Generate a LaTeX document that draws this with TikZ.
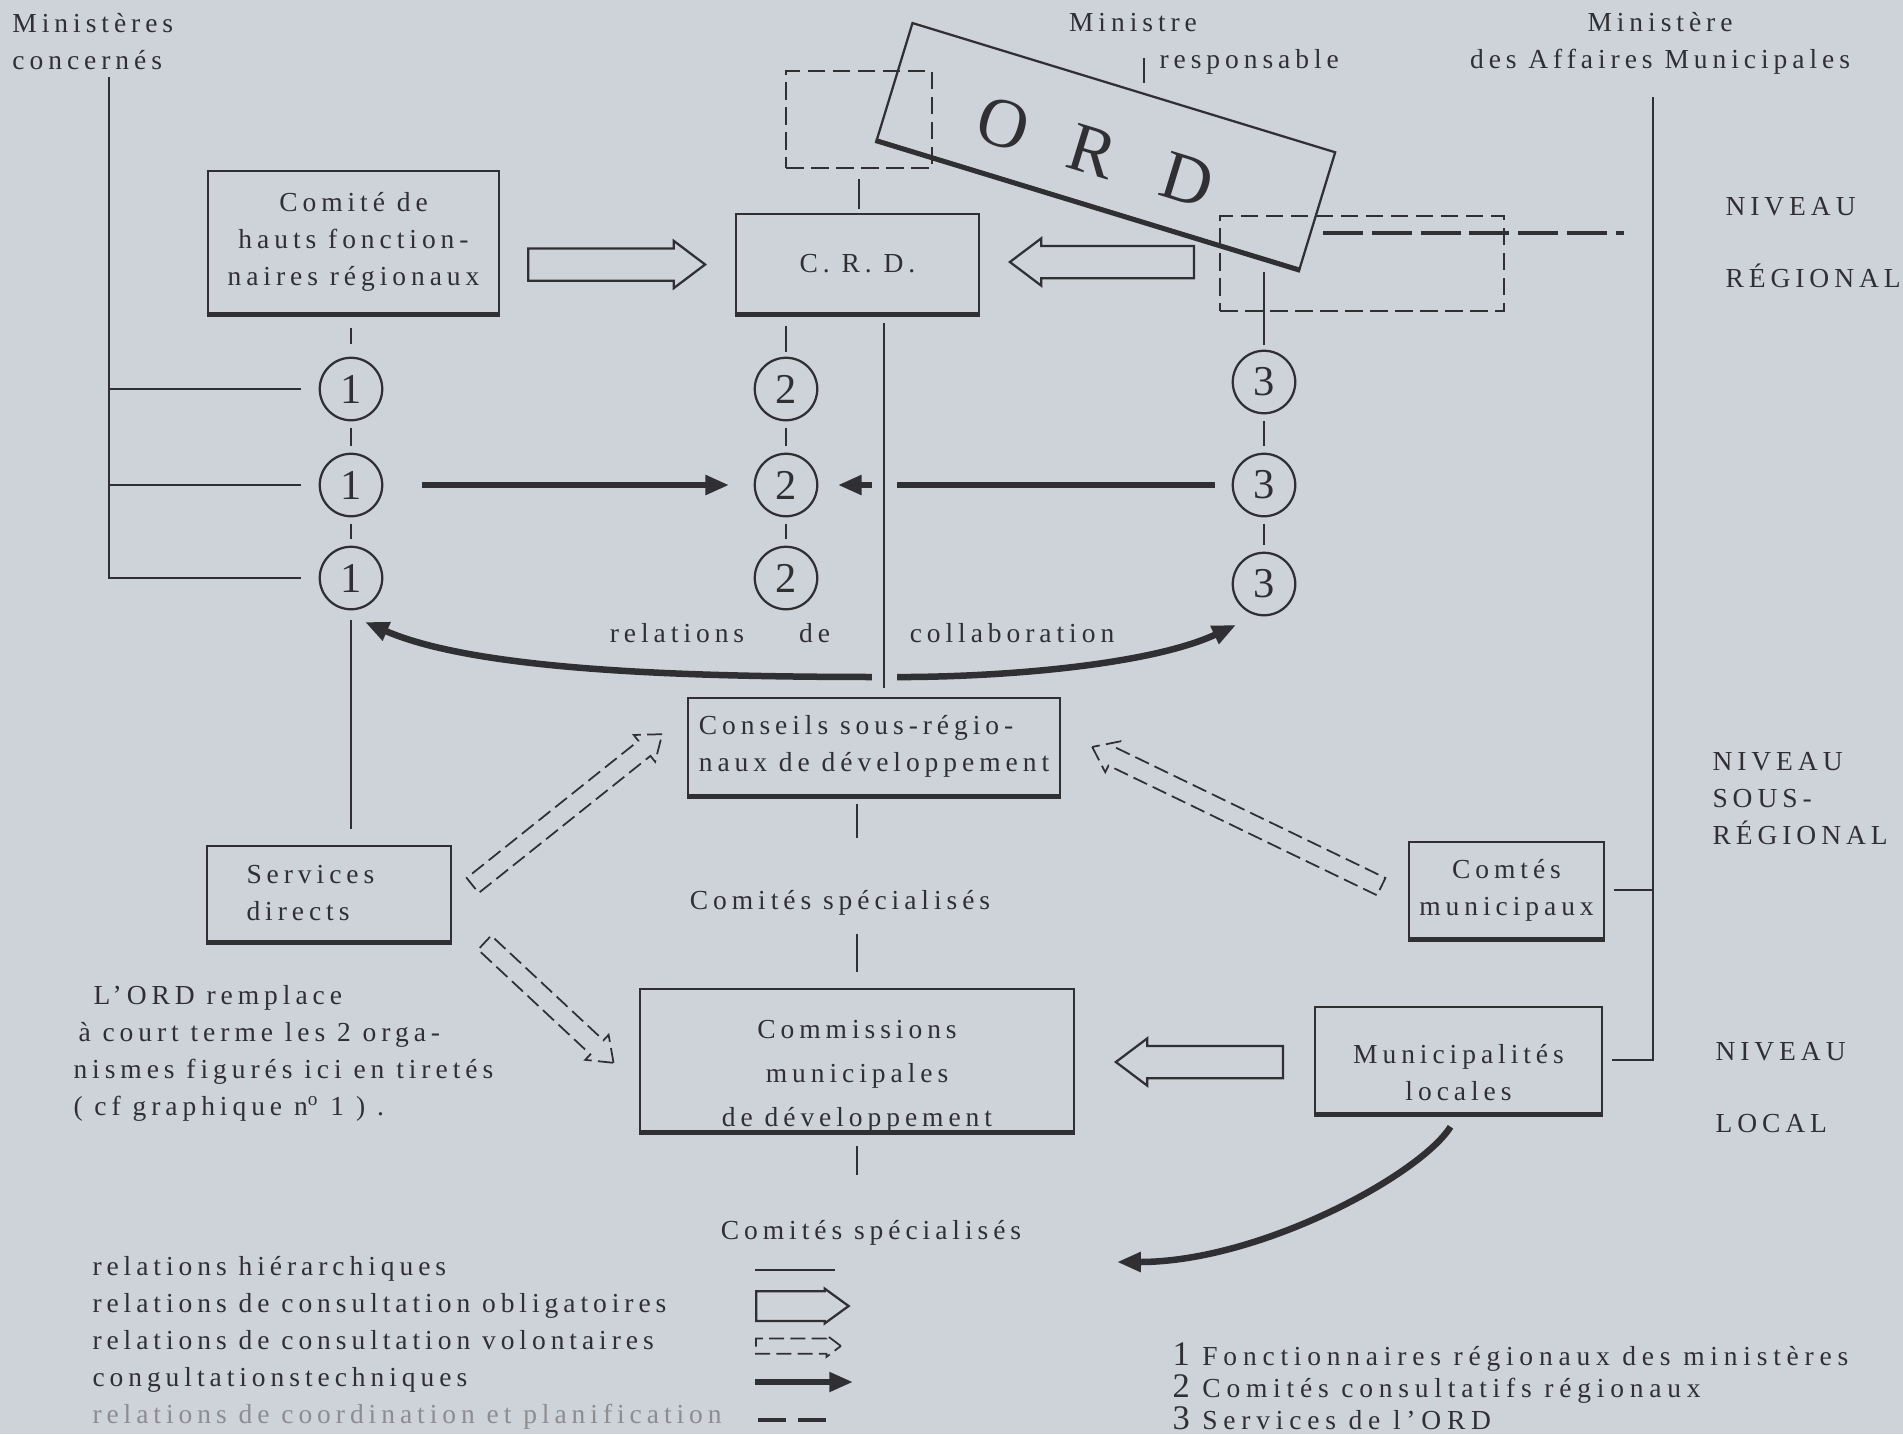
\documentclass[tikz,border=0pt]{standalone}
\usepackage{fontspec}
\setmainfont{Liberation Serif}[LetterSpace=18]
\usetikzlibrary{arrows.meta,shapes.arrows}

\definecolor{paper}{RGB}{206,210,217}
\definecolor{ink}{RGB}{48,48,52}

\tikzset{
  lbl/.style={inner sep=0pt},
  box/.style={draw=ink, line width=0.9pt, inner sep=2pt, align=center,
    append after command={(\tikzlastnode.south west) edge[draw=ink, line width=2pt] (\tikzlastnode.south east)}},
  oldbox/.style={draw=ink, line width=0.7pt, dash pattern=on 7pt off 3pt},
  num/.style={circle, draw=ink, line width=0.9pt, minimum size=25pt, inner sep=0pt, font=\fontsize{17}{17}\selectfont},
  hier/.style={draw=ink, line width=0.8pt},
  tech/.style={draw=ink, line width=2.6pt, -{Triangle[length=9.5pt,width=7.5pt]}},
  oblig/.style={single arrow, draw=ink, line width=0.9pt, inner xsep=0pt, inner ysep=6pt, anchor=tail,
    minimum width=18pt, single arrow head extend=3pt, single arrow tip angle=74},
  volont/.style={oblig, line width=0.7pt, dash pattern=on 6pt off 2.5pt,
    inner ysep=3.5pt, minimum width=13pt, single arrow head extend=3pt},
  coord/.style={draw=ink, line width=1.8pt, dash pattern=on 16pt off 3.5pt},
  niveau/.style={lbl, anchor=west, align=left},
}

\begin{document}
\begin{tikzpicture}[x=0.4pt, y=-0.4pt, font=\fontsize{11}{14.8}\selectfont, text=ink]
   \useasboundingbox[fill=paper] (0,0) rectangle (1903,1434);

   \node[lbl, anchor=west, align=left] (ministeres) at (12,42) {Ministères\\concernés};
   \node[lbl] (ministre) at (1133,23) {Ministre};
   \node[lbl, anchor=west] (responsable) at (1159,62) {responsable};
   \node[lbl, align=center] (mam) at (1660,43) {Ministère\\des Affaires Municipales};
   \node[niveau] (nivreg) at (1725,243) {NIVEAU\\[14pt]RÉGIONAL};
   \node[niveau] (nivsous) at (1712,799) {NIVEAU\\SOUS-\\RÉGIONAL};
   \node[niveau] (nivloc) at (1715,1088) {NIVEAU\\[14pt]LOCAL};

   \node[box, minimum width=116.4pt, minimum height=56.8pt] (comite) at (353.5,242) {Comité de\\hauts fonction-\\naires régionaux};
   \node[box, minimum width=97.2pt, minimum height=39.6pt] (crd) at (857.5,263.5) {C. R. D.};
   \node[oldbox, minimum width=58.4pt, minimum height=38.8pt] (crdold) at (859,119.5) {};
   \node[oldbox, minimum width=113.6pt, minimum height=38pt] (ordold) at (1362,263.5) {};
   \node[box, minimum width=176.8pt, minimum height=48.8pt, rotate=-17] (ord) at (1106,146) {};
   \node[lbl, rotate=-17, font=\fontsize{28}{28}\selectfont] (ordtxt) at (1095,152) {O\hspace{18pt}R\hspace{20pt}D};
   \node[box, minimum width=148.8pt, minimum height=38.8pt, align=left, inner sep=1pt] (conseils) at (874,746.5) {Conseils sous-régio-\\naux de développement};
   \node[box, minimum width=97.6pt, minimum height=38pt, align=left, text width=66pt] (services) at (329,893.5) {Services\\directs};
   \node[box, minimum width=78pt, minimum height=38.4pt] (comtes) at (1506.5,890) {Comtés\\municipaux};
   \node[box, minimum width=114.8pt, minimum height=42.4pt] (munic) at (1458.5,1060) {};
   \node[lbl, align=center] (munictxt) at ([yshift=-5pt]munic.center) {Municipalités\\locales};
   \node[box, minimum width=173.6pt, minimum height=56.8pt] (commissions) at (857,1060) {};
   \node[lbl, align=center, font=\fontsize{11}{17.6}\selectfont] (commtxt) at ([yshift=-6.4pt]commissions.center) {Commissions\\municipales\\de développement};

   \foreach \r/\y in {a/389,b/485,c/578} {
     \node[num] (c1\r) at (351,\y) {1};
     \node[num] (c2\r) at (786,\y) {2};
   }
   \foreach \r/\y in {a/382,b/485,c/584}
     \node[num] (c3\r) at (1264,\y) {3};
   \foreach \c in {1,2,3} {
     \draw[hier, shorten <=2.5pt, shorten >=2.5pt] (c\c a) -- (c\c b);
     \draw[hier, shorten <=2.5pt, shorten >=2.5pt] (c\c b) -- (c\c c);
   }

   \coordinate (minL) at (109,77);
   \coordinate (minR) at (1653,97);
   \coordinate (ministreA) at (1144,58);
   \draw[hier] (ministreA) -- ++(0,25);
   \draw[hier] (minL) |- ([xshift=-7pt]c1c.west);
   \draw[hier] (minL |- c1a) -- ([xshift=-7pt]c1a.west);
   \draw[hier] (minL |- c1b) -- ([xshift=-7pt]c1b.west);
   \draw[hier, shorten <=5.5pt, shorten >=5pt] (c1a |- comite.south) -- (c1a);
   \draw[hier, shorten <=4.8pt, shorten >=2pt] (c2a |- crd.south) -- (c2a);
   \draw[hier, shorten <=4pt, shorten >=1.6pt] (crdold.south) -- (crdold.south |- crd.north);
   \draw[hier, shorten >=2pt] ([yshift=31pt]c3a.north) -- (c3a.north);
   \draw[hier, shorten <=4pt, shorten >=6.4pt] (c1c) -- (c1c |- services.north);
   \draw[hier] (minR) |- ([xshift=3.5pt]munic.east);
   \draw[hier] ([xshift=3.5pt]comtes.east) -- (comtes.east -| minR);

   \node[lbl] (specA) at (840,903) {Comités spécialisés};
   \node[lbl] (specB) at (871,1233) {Comités spécialisés};
   \draw[hier, shorten <=3.2pt, shorten >=21pt] (conseils.south -| commissions.north) -- (commissions.north |- specA.north);
   \draw[hier, shorten <=7pt, shorten >=6.4pt] (commissions.north |- specA.south) -- (commissions.north);
   \draw[hier, shorten <=5.6pt, shorten >=18pt] (commissions.south) -- (commissions.south |- specB.north);

   \node[oblig, minimum height=70.8pt] (obl1) at (527,264.5) {};
   \node[oblig, minimum height=73.6pt, rotate=180] (obl2) at (1195,262) {};
   \node[oblig, minimum height=66.8pt, rotate=180] (obl3) at (1284,1062) {};
   \node[volont, minimum height=97pt, rotate=38.6] (vol1) at (472,886) {};
   \node[volont, minimum height=70.5pt, rotate=-43] (vol2) at (484,942) {};
   \node[volont, minimum height=128.4pt, rotate=154.2] (vol3) at (1382,887) {};

   \coordinate (coordA) at (1323,233);
   \coordinate (coordB) at (1624,233);
   \draw[coord] (coordA) -- (coordB);

   \draw[tech, shorten <=15.6pt, shorten >=9.8pt] (c1b) -- (c2b);
   \draw[tech, shorten <=6.6pt, shorten >=7.8pt] (c3b) -- (c2b);
   \coordinate (collab) at (884,677);
   \coordinate (tipL) at (365,622);
   \coordinate (tipR) at (1236,625);
   \draw[tech] (collab) .. controls (700,677) and (480,672) .. (tipL);
   \draw[tech] (collab) .. controls (1000,678) and (1150,665) .. (tipR);
   \coordinate (crdleg) at (884,323);
   \coordinate (crdfoot) at (884,688);
   \draw[hier, preaction={draw=paper, line width=10pt}] (crdleg) -- (crdfoot);
   \coordinate (tipB) at (1117,1262);
   \draw[tech, shorten <=6pt] (munic.south) .. controls (1420,1175) and (1260,1262) .. (tipB);

   \node[lbl] (relde) at (720,633) {relations\hspace{22pt}de};
   \node[lbl] (collabtxt) at (1012,633) {collaboration};
   \node[lbl, anchor=west, align=left] (note) at (73,1053) {\hspace*{8pt}L'ORD remplace\\\hspace*{2pt}à court terme les 2 orga-\\nismes figurés ici en tiretés\\( cf graphique n\textsuperscript{o} 1 ) .};

   \node[lbl, anchor=west, align=left] (legend) at (92,1343) {relations hiérarchiques\\relations de consultation obligatoires\\relations de consultation volontaires\\congultationstechniques\\{\color{ink!55}relations de coordination et planification}};
   \coordinate (keyhierA) at (755,1270);
   \coordinate (keyhierB) at (835,1270);
   \draw[hier] (keyhierA) -- (keyhierB);
   \node[oblig, minimum height=37pt, inner ysep=5.5pt, minimum width=0pt, single arrow head extend=1pt, single arrow tip angle=72] (keyobl) at (755,1306) {};
   \node[volont, minimum height=34pt, inner ysep=2.7pt, minimum width=0pt, single arrow head extend=1.3pt] (keyvol) at (755,1346) {};
   \coordinate (keytechA) at (755,1382);
   \coordinate (keytechB) at (853,1382);
   \draw[tech, line width=2.3pt] (keytechA) -- (keytechB);
   \coordinate (keycoordA) at (758,1420);
   \coordinate (keycoordB) at (837,1420);
   \draw[coord, dash pattern=on 11pt off 5pt] (keycoordA) -- (keycoordB);

   \node[lbl, anchor=west, align=left, font=\fontsize{11}{12.8}\selectfont\addfontfeatures{LetterSpace=21}] (key) at (1172,1386) {{\fontsize{13.8}{12.8}\selectfont 1} Fonctionnaires régionaux des ministères\\{\fontsize{13.8}{12.8}\selectfont 2} Comités consultatifs régionaux\\{\fontsize{13.8}{12.8}\selectfont 3} Services de l'ORD};
  \end{tikzpicture}
\end{document}
